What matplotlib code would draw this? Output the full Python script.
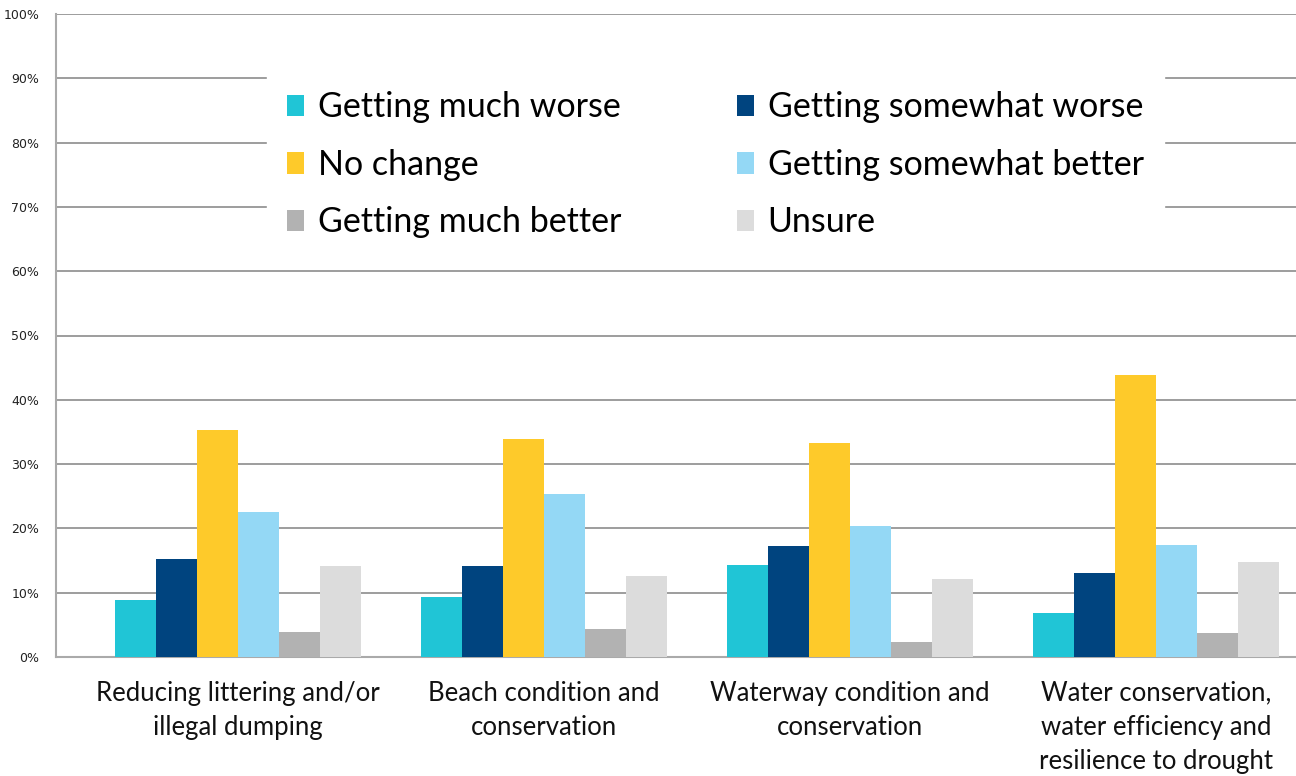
import numpy as np
import matplotlib
matplotlib.use("Agg")
import matplotlib.pyplot as plt
from matplotlib.ticker import FuncFormatter

# data (percent)
categories = ["Reducing littering and/or\nillegal dumping",
              "Beach condition and\nconservation",
              "Waterway condition and\nconservation",
              "Water conservation,\nwater efficiency and\nresilience to drought"]
series = ["Getting much worse", "Getting somewhat worse", "No change",
          "Getting somewhat better", "Getting much better", "Unsure"]
much_worse = [8.9, 9.4, 14.3, 6.9]
somewhat_worse = [15.2, 14.1, 17.2, 13.0]
no_change = [35.3, 33.9, 33.3, 43.8]
somewhat_better = [22.5, 25.4, 20.4, 17.4]
much_better = [3.9, 4.4, 2.4, 3.8]
unsure = [14.1, 12.6, 12.1, 14.8]
values = [much_worse, somewhat_worse, no_change, somewhat_better, much_better, unsure]
colors = ["#20C5D6", "#00447F", "#FECA2A", "#94D8F5", "#B2B2B2", "#DCDCDC"]

fig = plt.figure(figsize=(12.96, 7.76), dpi=100)
ax = fig.add_axes([56/1296, 119/776, 1240/1296, 643/776])

x = np.arange(len(categories))
w = 41/306
bars = []
for i in range(len(series)):
    b = ax.bar(x + (i - 2.5)*w, values[i], width=w, color=colors[i], label=series[i], zorder=3)
    bars.append(b)

ax.set_ylim(0, 100)
ax.set_xlim(-182/306, 1058/306)
ax.set_yticks(np.arange(0, 101, 10))
ax.yaxis.set_major_formatter(FuncFormatter(lambda v, p: "%d%%" % v))
ax.grid(axis="y", color="#8C8C8C", lw=1.2, zorder=0)
ax.set_xticks(x)
ax.set_xticklabels(categories, fontsize=18.5, family="Lato", linespacing=1.47, color="#111111")
ax.tick_params(axis="x", length=0, pad=17)
ax.tick_params(axis="y", length=0, pad=12, labelsize=9, labelcolor="#222222")
for s in ["top", "right"]:
    ax.spines[s].set_visible(False)
for s in ["left", "bottom"]:
    ax.spines[s].set_color("#AAAAAA")
    ax.spines[s].set_linewidth(1.5)

# legend is filled row by row in the reference
order = [0, 2, 4, 1, 3, 5]
leg = ax.legend([bars[i] for i in order], [series[i] for i in order],
                ncol=2, loc="upper left", bbox_to_anchor=(267/1296, 1-71/776),
                bbox_transform=fig.transFigure,
                prop={"family": "Lato", "size": 24.5},
                frameon=True, facecolor="white", edgecolor="white", framealpha=1,
                fancybox=False, handlelength=0.5, handleheight=0.6, handletextpad=0.4,
                columnspacing=3.4, labelspacing=0.75, borderpad=0.6, borderaxespad=0)
leg.set_zorder(5)

fig.savefig("out.png", dpi=100)
